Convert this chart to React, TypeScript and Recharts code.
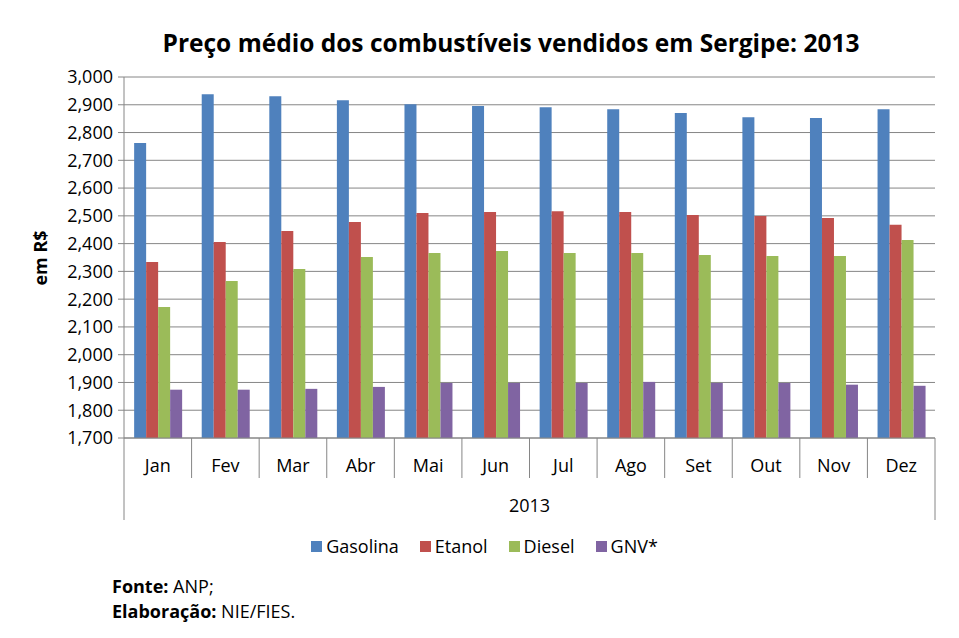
import React from "react";
import {
  BarChart,
  Bar,
  XAxis,
  YAxis,
  CartesianGrid,
  Legend,
} from "recharts";

const meses = ["Jan", "Fev", "Mar", "Abr", "Mai", "Jun", "Jul", "Ago", "Set", "Out", "Nov", "Dez"];
const gasolina = [2.762, 2.938, 2.931, 2.916, 2.902, 2.896, 2.891, 2.884, 2.870, 2.855, 2.852, 2.884];
const etanol = [2.334, 2.406, 2.445, 2.478, 2.510, 2.514, 2.517, 2.514, 2.503, 2.499, 2.492, 2.468];
const diesel = [2.172, 2.265, 2.309, 2.352, 2.366, 2.373, 2.366, 2.366, 2.359, 2.355, 2.355, 2.413];
const gnv = [1.874, 1.874, 1.877, 1.884, 1.898, 1.898, 1.898, 1.902, 1.898, 1.898, 1.892, 1.888];
const yTicks = [1.7, 1.8, 1.9, 2.0, 2.1, 2.2, 2.3, 2.4, 2.5, 2.6, 2.7, 2.8, 2.9, 3.0];
const ano = "2013";

const series = [
  { key: "gasolina", nome: "Gasolina", cor: "#4F81BD" },
  { key: "etanol", nome: "Etanol", cor: "#C0504D" },
  { key: "diesel", nome: "Diesel", cor: "#9BBB59" },
  { key: "gnv", nome: "GNV*", cor: "#8064A2" },
];

const data = meses.map((mes, i) => ({
  mes,
  gasolina: gasolina[i],
  etanol: etanol[i],
  diesel: diesel[i],
  gnv: gnv[i],
}));

const W = 959;
const H = 638;
const PLOT_LEFT = 124;
const PLOT_RIGHT = 935;
const PLOT_TOP = 77;
const PLOT_BOTTOM = 438;
const BAND = (PLOT_RIGHT - PLOT_LEFT) / meses.length;
const FONT = "'Open Sans', sans-serif";
const AXIS = "#868686";

const fmt = (v: number) => v.toFixed(3).replace(".", ",");

function MesTick(props: any) {
  const { x, payload, index } = props;
  const left = x - BAND / 2;
  const right = x + BAND / 2;
  const last = index === meses.length - 1;
  return (
    <g>
      <line x1={left} x2={left} y1={PLOT_BOTTOM} y2={index === 0 ? 520 : 478} stroke={AXIS} />
      {last && <line x1={right} x2={right} y1={PLOT_BOTTOM} y2={520} stroke={AXIS} />}
      <text x={x} y={PLOT_BOTTOM + 34} textAnchor="middle" fontSize={18} fill="#000" fontFamily={FONT}>
        {payload.value}
      </text>
      {index === 0 && (
        <text
          x={(PLOT_LEFT + PLOT_RIGHT) / 2}
          y={PLOT_BOTTOM + 74}
          textAnchor="middle"
          fontSize={18}
          fill="#000"
          fontFamily={FONT}
        >
          {ano}
        </text>
      )}
    </g>
  );
}

function YLabel() {
  return (
    <text
      x={40}
      y={258}
      transform="rotate(-90 40 258)"
      textAnchor="middle"
      dominantBaseline="central"
      fontSize={18}
      fontWeight="bold"
      fontFamily={FONT}
      fill="#000"
    >
      em R$
    </text>
  );
}

function Legenda() {
  return (
    <div
      style={{
        display: "flex",
        justifyContent: "center",
        gap: 21,
        height: 24,
        alignItems: "center",
        fontFamily: FONT,
        fontSize: 18,
        color: "#000",
      }}
    >
      {series.map((s) => (
        <span key={s.key} style={{ display: "flex", alignItems: "center", gap: 4 }}>
          <span style={{ width: 11, height: 11, background: s.cor, display: "inline-block" }} />
          {s.nome}
        </span>
      ))}
    </div>
  );
}

export default function App() {
  return (
    <div style={{ position: "absolute", left: 0, top: 0, width: W, height: H, background: "#fff" }}>
      <div
        style={{
          position: "absolute",
          left: 0,
          width: 1022,
          top: 26,
          textAlign: "center",
          fontFamily: FONT,
          fontWeight: "bold",
          fontSize: 24.5,
          color: "#000",
          whiteSpace: "nowrap",
        }}
      >
        Preço médio dos combustíveis vendidos em Sergipe: 2013
      </div>
      <BarChart
        width={W}
        height={H}
        data={data}
        barCategoryGap="15%"
        barGap={0}
        margin={{ top: PLOT_TOP, right: W - PLOT_RIGHT, left: 34, bottom: 80 }}
      >
        <CartesianGrid vertical={false} stroke={AXIS} />
        <XAxis
          dataKey="mes"
          tickLine={false}
          axisLine={{ stroke: AXIS }}
          height={96}
          tick={<MesTick />}
          interval={0}
        />
        <YAxis
          domain={[1.7, 3.0]}
          ticks={yTicks}
          tickFormatter={fmt}
          width={90}
          tickSize={6}
          tickMargin={5}
          tickLine={{ stroke: AXIS }}
          axisLine={{ stroke: AXIS }}
          tick={{ fontSize: 18, fill: "#000", fontFamily: FONT }}
          label={<YLabel />}
          interval={0}
        />
        <Legend verticalAlign="bottom" height={24} content={<Legenda />} />
        {series.map((s) => (
          <Bar key={s.key} dataKey={s.key} name={s.nome} fill={s.cor} isAnimationActive={false} />
        ))}
      </BarChart>
      <div
        style={{
          position: "absolute",
          left: 112,
          top: 574,
          fontFamily: FONT,
          fontSize: 18,
          lineHeight: "25px",
          color: "#000",
        }}
      >
        <div>
          <b>Fonte:</b> ANP;
        </div>
        <div>
          <b>Elaboração:</b> NIE/FIES.
        </div>
      </div>
    </div>
  );
}
